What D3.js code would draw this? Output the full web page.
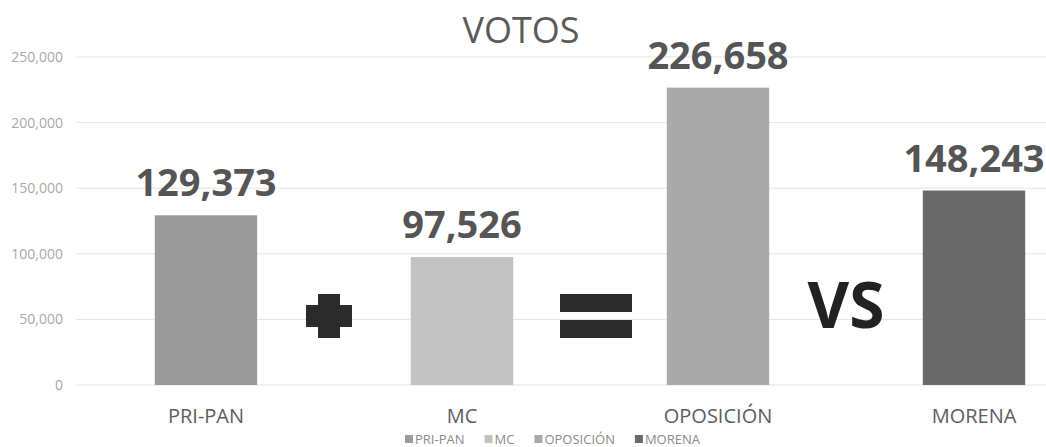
<!DOCTYPE html>
<html>
<head>
<meta charset="utf-8">
<script src="https://cdn.jsdelivr.net/npm/d3@7"></script>
<style>
  body { margin: 0; background: #fff; }
  text { font-family: "Open Sans", "Noto Sans", sans-serif; }
</style>
</head>
<body>
<div id="chart"></div>
<script>
// data
const categories = ["PRI-PAN", "MC", "OPOSICIÓN", "MORENA"];
const votes = [129373, 97526, 226658, 148243];
const colors = ["#9b9b9b", "#c2c2c2", "#aaaaaa", "#6a6a6a"];
const y_ticks = [0, 50000, 100000, 150000, 200000, 250000];
const operators = ["plus", "equals", "VS"];

const width = 1046, height = 447;

const svg = d3.select("#chart")
  .append("svg")
  .attr("width", width)
  .attr("height", height);

// scales (plot runs off the right edge, like the cropped original)
const x_scale = d3.scaleBand()
  .domain(categories)
  .range([78, 1102])
  .paddingInner(0.6)
  .paddingOuter(0.3);

const y_scale = d3.scaleLinear()
  .domain([0, 250000])
  .range([385, 57]);

const fmt = d3.format(",");

// gridlines
svg.append("g")
  .selectAll("line")
  .data(y_ticks)
  .enter()
  .append("line")
  .attr("x1", 76)
  .attr("x2", width)
  .attr("y1", d => y_scale(d))
  .attr("y2", d => y_scale(d))
  .attr("stroke", "#e3e3e3")
  .attr("stroke-width", 1);

// y axis labels
const y_axis = d3.axisLeft(y_scale)
  .tickValues(y_ticks)
  .tickFormat(fmt)
  .tickSize(0)
  .tickPadding(0);

svg.append("g")
  .attr("transform", "translate(63,0)")
  .call(y_axis)
  .call(g => g.select(".domain").remove())
  .call(g => g.selectAll("text")
    .attr("fill", "#a8a8a8")
    .style("font-size", "14px")
    .style("font-family", "'Open Sans', sans-serif"));

// bars
svg.selectAll("rect.bar")
  .data(votes)
  .enter()
  .append("rect")
  .attr("class", "bar")
  .attr("x", (d, i) => x_scale(categories[i]))
  .attr("y", d => y_scale(d))
  .attr("width", x_scale.bandwidth())
  .attr("height", d => y_scale(0) - y_scale(d))
  .attr("fill", (d, i) => colors[i]);

// value labels
svg.selectAll("text.value")
  .data(votes)
  .enter()
  .append("text")
  .attr("class", "value")
  .attr("x", (d, i) => x_scale(categories[i]) + x_scale.bandwidth() / 2)
  .attr("y", d => y_scale(d) - 19)
  .attr("text-anchor", "middle")
  .attr("fill", "#555555")
  .style("font-size", "38px")
  .style("font-weight", "700")
  .text(d => fmt(d));

// category labels
svg.selectAll("text.cat")
  .data(categories)
  .enter()
  .append("text")
  .attr("class", "cat")
  .attr("x", d => x_scale(d) + x_scale.bandwidth() / 2)
  .attr("y", 423)
  .attr("text-anchor", "middle")
  .attr("fill", "#5e5e5e")
  .style("font-size", "20px")
  .text(d => d);

// title
svg.append("text")
  .attr("x", 521)
  .attr("y", 43)
  .attr("text-anchor", "middle")
  .attr("fill", "#5a5a5a")
  .style("font-size", "36px")
  .text("VOTOS");

// operators between the bars
const mid = i => (x_scale(categories[i]) + x_scale(categories[i + 1])) / 2 + x_scale.bandwidth() / 2;
const op_y = 316;
const op_g = svg.append("g").attr("fill", "#2b2b2b");

operators.forEach((op, i) => {
  const cx = mid(i);
  if (op === "plus") {
    op_g.append("rect").attr("x", cx - 28).attr("y", op_y - 11).attr("width", 46).attr("height", 22);
    op_g.append("rect").attr("x", cx - 16).attr("y", op_y - 22).attr("width", 22).attr("height", 44);
  } else if (op === "equals") {
    op_g.append("rect").attr("x", cx - 30).attr("y", op_y - 22).attr("width", 72).attr("height", 18);
    op_g.append("rect").attr("x", cx - 30).attr("y", op_y + 4).attr("width", 72).attr("height", 18);
  } else {
    op_g.append("text")
      .attr("x", cx)
      .attr("y", 328)
      .attr("text-anchor", "middle")
      .attr("fill", "#222")
      .style("font-size", "64px")
      .style("font-weight", "700")
      .text(op);
  }
});

// legend
const legend = svg.append("g");
let lx = 405;
categories.forEach((c, i) => {
  legend.append("rect")
    .attr("x", lx)
    .attr("y", 435)
    .attr("width", 8)
    .attr("height", 8)
    .attr("fill", colors[i]);
  const t = legend.append("text")
    .attr("x", lx + 10)
    .attr("y", 444)
    .attr("fill", "#8a8a8a")
    .style("font-size", "13px")
    .text(c);
  lx += 10 + t.node().getComputedTextLength() + 20;
});
</script>
</body>
</html>
